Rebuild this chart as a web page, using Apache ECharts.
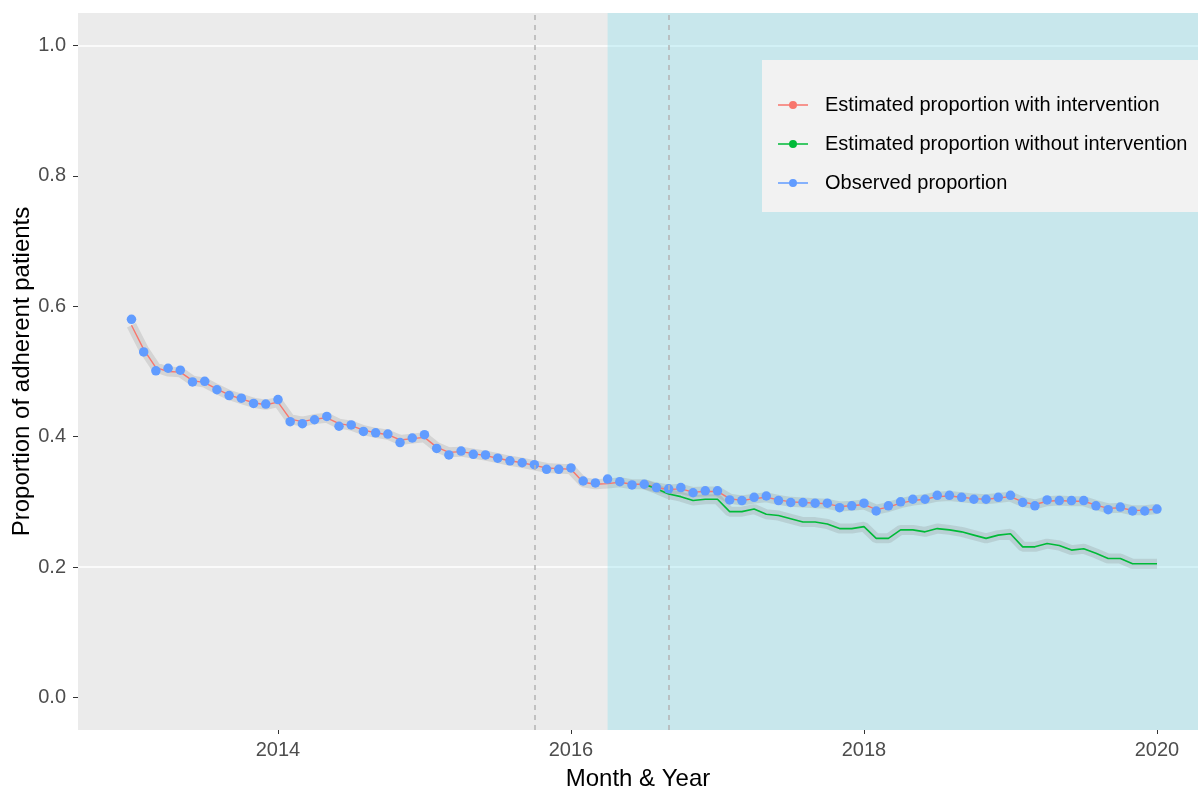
<!DOCTYPE html>
<html>
<head>
<meta charset="UTF-8">
<script src="https://cdn.jsdelivr.net/npm/echarts@6/dist/echarts.min.js"></script>
<style>
  html, body { margin: 0; padding: 0; background: #fff; }
  #main { width: 1198px; height: 789px; }
</style>
</head>
<body>
<div id="main"></div>
<script type="text/javascript">
// monthly series, first point = Jan 2013, one value per month up to Jan 2020
var startYear = 2013;

// observed proportion (blue dots)
var observed = [
  0.580, 0.530, 0.501, 0.505, 0.502, 0.484, 0.485, 0.472, 0.463, 0.459, 0.451, 0.450,
  0.457, 0.423, 0.420, 0.426, 0.431, 0.416, 0.418, 0.408, 0.406, 0.404, 0.391, 0.398,
  0.403, 0.382, 0.372, 0.378, 0.373, 0.372, 0.367, 0.363, 0.360, 0.357, 0.350, 0.350,
  0.352, 0.332, 0.329, 0.335, 0.331, 0.326, 0.327, 0.322, 0.320, 0.322, 0.314, 0.317,
  0.317, 0.303, 0.302, 0.307, 0.309, 0.302, 0.299, 0.299, 0.298, 0.298, 0.291, 0.294,
  0.298, 0.286, 0.294, 0.300, 0.304, 0.304, 0.310, 0.310, 0.307, 0.304, 0.304, 0.307,
  0.310, 0.299, 0.294, 0.303, 0.302, 0.302, 0.302, 0.294, 0.288, 0.292, 0.286, 0.286,
  0.289
];

// estimated proportion with intervention (red line)
var withIntervention = [
  0.571, 0.534, 0.506, 0.500, 0.499, 0.486, 0.483, 0.473, 0.464, 0.458, 0.452, 0.449,
  0.453, 0.427, 0.423, 0.427, 0.429, 0.420, 0.417, 0.410, 0.406, 0.403, 0.395, 0.397,
  0.399, 0.384, 0.376, 0.377, 0.374, 0.371, 0.367, 0.363, 0.360, 0.356, 0.352, 0.351,
  0.350, 0.330, 0.327, 0.328, 0.330, 0.327, 0.327, 0.322, 0.319, 0.320, 0.315, 0.316,
  0.316, 0.305, 0.302, 0.305, 0.307, 0.303, 0.300, 0.299, 0.298, 0.297, 0.293, 0.294,
  0.296, 0.288, 0.292, 0.298, 0.302, 0.304, 0.308, 0.309, 0.307, 0.305, 0.304, 0.306,
  0.308, 0.300, 0.296, 0.301, 0.302, 0.301, 0.301, 0.295, 0.290, 0.291, 0.287, 0.287,
  0.289
];

// estimated proportion without intervention (green line), starts at month index 42
var withoutStart = 42;
var withoutIntervention = [
  0.327, 0.320, 0.312, 0.308, 0.302, 0.304,
  0.304, 0.285, 0.285, 0.289, 0.281, 0.279, 0.274, 0.269, 0.269, 0.266, 0.259, 0.259,
  0.262, 0.244, 0.244, 0.257, 0.257, 0.254, 0.259, 0.257, 0.254, 0.249, 0.244, 0.249,
  0.251, 0.231, 0.231, 0.236, 0.233, 0.226, 0.228, 0.221, 0.213, 0.213, 0.205, 0.205,
  0.205
];

var xTicks = [2014, 2016, 2018, 2020];
var yTicks = [0, 0.2, 0.4, 0.6, 0.8, 1.0];
var dashedLines = [2015.75, 2016.667];   // vertical reference lines
var shadeStart = 2016.25;                // post-intervention period
var xMin = 2012.635, xMax = 2020.28;

var seriesNames = [
  'Estimated proportion with intervention',
  'Estimated proportion without intervention',
  'Observed proportion'
];
var colors = ['#F8766D', '#00BA38', '#619CFF'];

function toPairs(values, offset) {
  return values.map(function (v, i) {
    return [startYear + (i + offset) / 12, v];
  });
}

var redData = toPairs(withIntervention, 0);
var greenData = toPairs(withoutIntervention, withoutStart);
var blueData = toPairs(observed, 0);

var legendIcon = 'path://M0,3.3H30V4.7H0Z M15,0A4,4 0 1 1 15,8A4,4 0 1 1 15,0Z';
var font = 'Liberation Sans, Arial, sans-serif';

var chart = echarts.init(document.getElementById('main'));

var option = {
  animation: false,
  grid: {
    left: 78, right: 0, top: 13, bottom: 59,
    containLabel: false, outerBoundsMode: 'none',
    show: true, backgroundColor: '#EBEBEB', borderWidth: 0
  },
  legend: {
    data: seriesNames,
    orient: 'vertical',
    left: 762, top: 60,
    padding: [35, 20, 19, 16],
    backgroundColor: '#F2F2F2',
    itemWidth: 30, itemHeight: 8, itemGap: 19,
    icon: legendIcon,
    itemStyle: { borderWidth: 0 },
    textStyle: { fontFamily: font, fontSize: 20, color: '#000', lineHeight: 20, padding: [0, 0, 0, 12] },
    selectedMode: false,
    z: 10
  },
  xAxis: {
    type: 'value',
    min: xMin, max: xMax,
    name: 'Month & Year',
    nameLocation: 'middle',
    nameGap: 37,
    nameMoveOverlap: false,
    nameTextStyle: { fontFamily: font, fontSize: 24, color: '#000' },
    axisLine: { show: false, onZero: false },
    splitLine: { show: false },
    axisTick: { show: true, length: 4, customValues: xTicks, lineStyle: { color: '#333' } },
    axisLabel: {
      customValues: xTicks, margin: 10,
      fontFamily: font, fontSize: 20, color: '#4D4D4D',
      formatter: function (v) { return String(Math.round(v)); }
    }
  },
  yAxis: {
    type: 'value',
    min: -0.05, max: 1.05, interval: 0.05,
    name: 'Proportion of adherent patients',
    nameLocation: 'middle',
    nameGap: 44,
    nameMoveOverlap: false,
    nameTextStyle: { fontFamily: font, fontSize: 24, color: '#000' },
    axisLine: { show: false, onZero: false },
    splitLine: {
      show: true,
      lineStyle: { width: 1.5, color: ['rgba(0,0,0,0)', '#FFFFFF', 'rgba(0,0,0,0)', 'rgba(0,0,0,0)'] }
    },
    axisTick: { show: true, length: 5, customValues: yTicks, lineStyle: { color: '#333' } },
    axisLabel: {
      customValues: yTicks, margin: 12,
      fontFamily: font, fontSize: 20, color: '#4D4D4D',
      formatter: function (v) { return v.toFixed(1); }
    }
  },
  series: [
    // confidence ribbons
    {
      name: 'ribbon-red', type: 'line', data: redData, showSymbol: false, silent: true,
      lineStyle: { width: 10, color: 'rgba(120,120,120,0.2)' }, z: 1
    },
    {
      name: 'ribbon-green', type: 'line', data: greenData, showSymbol: false, silent: true,
      lineStyle: { width: 10, color: 'rgba(120,120,120,0.2)' }, z: 1
    },
    {
      name: seriesNames[0], type: 'line', data: redData,
      symbol: 'circle', showSymbol: false, color: colors[0],
      lineStyle: { width: 1.4, color: colors[0] }, z: 2
    },
    {
      name: seriesNames[1], type: 'line', data: greenData,
      symbol: 'circle', showSymbol: false, color: colors[1],
      lineStyle: { width: 1.6, color: colors[1] }, z: 2
    },
    {
      name: seriesNames[2], type: 'scatter', data: blueData,
      symbol: 'circle', symbolSize: 9.5, color: colors[2],
      itemStyle: { color: colors[2], opacity: 1 }, z: 2
    },
    // translucent blue shading drawn over the marks
    {
      name: 'shade', type: 'line', data: [], silent: true, z: 3,
      markArea: {
        silent: true,
        itemStyle: { color: 'rgba(140,225,240,0.37)' },
        data: [[{ xAxis: shadeStart }, { xAxis: xMax }]]
      }
    },
    {
      name: 'refs', type: 'line', data: [], silent: true, z: 4,
      markLine: {
        silent: true, symbol: 'none',
        label: { show: false },
        lineStyle: { color: '#B4B4B4', type: [5, 5], width: 1.5 },
        data: dashedLines.map(function (x) { return { xAxis: x }; })
      }
    }
  ]
};

chart.setOption(option);
</script>
</body>
</html>
